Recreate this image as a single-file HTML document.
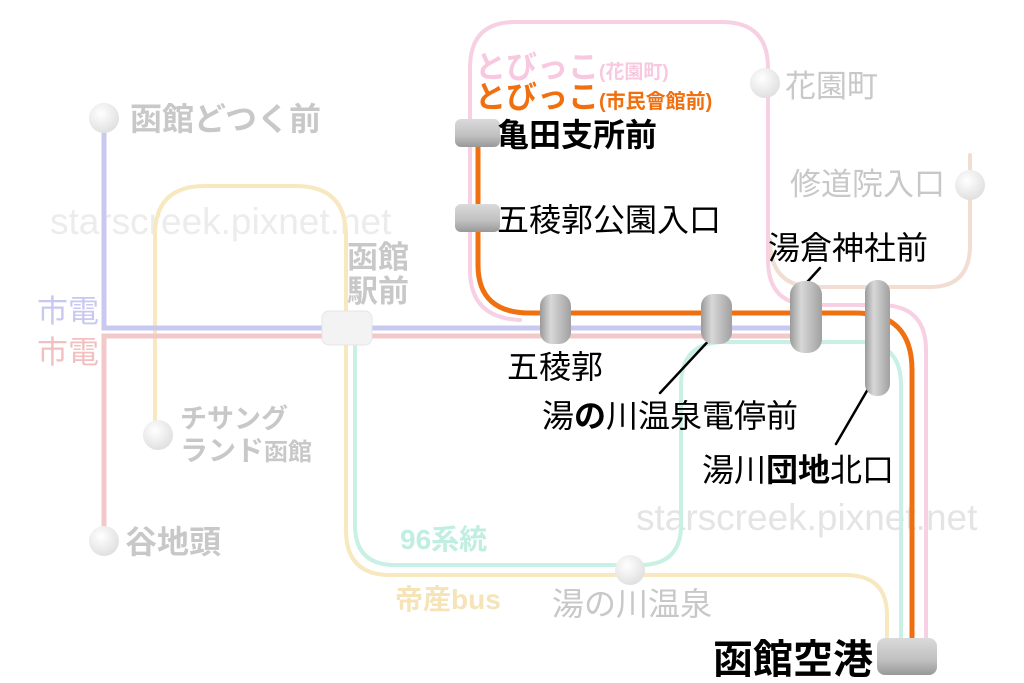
<!DOCTYPE html>
<html><head><meta charset="utf-8"><style>
html,body{margin:0;padding:0;background:#fff;}
svg{display:block;font-family:"Liberation Sans","Noto Sans CJK JP",sans-serif;}
</style></head><body>
<svg width="1024" height="683" viewBox="0 0 1024 683" xmlns="http://www.w3.org/2000/svg">
<defs>
<linearGradient id="g" x1="0" x2="1" y1="0" y2="0"><stop offset="0" stop-color="#9a9a9a"/><stop offset="0.35" stop-color="#d8d8d8"/><stop offset="1" stop-color="#a0a0a0"/></linearGradient>
<linearGradient id="gv" x1="0" x2="0" y1="0" y2="1"><stop offset="0" stop-color="#dadada"/><stop offset="0.6" stop-color="#c0c0c0"/><stop offset="1" stop-color="#989898"/></linearGradient>
<radialGradient id="ball" cx="0.4" cy="0.35" r="0.7"><stop offset="0" stop-color="#fff"/><stop offset="1" stop-color="#dedede"/></radialGradient>
</defs>
<text x="50" y="234" font-size="37" fill="#ececec">starscreek.pixnet.net</text>
<text x="636" y="530" font-size="37" fill="#e4e4e4">starscreek.pixnet.net</text>
<g fill="none" stroke-linecap="round">
<path d="M770 240 Q770 287 815 287 H930 Q970 287 970 245 V155" stroke="#f2ddd2" stroke-width="4"/>
<path d="M520 320 Q470 318 470 270 V68 Q470 22 515 22 H722 Q768 22 768 68 V260 Q768 305 812 305 H880 Q926 305 926 350 V640" stroke="#f8d0e4" stroke-width="4"/>
<path d="M155 435 V235 Q155 186 205 186 H296 Q346 186 346 236 V530 Q346 575 390 575 H845 Q887 575 887 615 V640" stroke="#f8e8c0" stroke-width="4"/>
<path d="M355 340 V525 Q355 565 395 565 H640 Q681 565 681 525 V385 Q681 342 725 342 H858 Q901 342 901 385 V640" stroke="#c8f0e4" stroke-width="4"/>
<path d="M104 118 V328 H805" stroke="#c8c8f0" stroke-width="5"/>
<path d="M104 540 V336 H805" stroke="#f2c8c8" stroke-width="5"/>
<path d="M478 132 V265 Q478 313 530 313 H855 Q912 313 912 370 V650" stroke="#f07010" stroke-width="5"/>
<g stroke="#000" stroke-width="2.5">
<line x1="660" y1="393" x2="713" y2="336"/>
<line x1="800" y1="290" x2="820" y2="268"/>
<line x1="836" y1="444" x2="875" y2="377"/>
</g>
</g>
<g fill="url(#ball)">
<circle cx="104" cy="118" r="15"/><circle cx="104" cy="541" r="15"/>
<circle cx="158" cy="435" r="15"/><circle cx="630" cy="570" r="15"/>
<circle cx="765" cy="83" r="15"/><circle cx="970" cy="185" r="15"/>
</g>
<rect x="322" y="311" width="50" height="34" rx="7" fill="#f3f3f3" stroke="#e6e6e6"/>
<g fill="url(#gv)">
<rect x="455" y="119" width="45" height="28" rx="6"/>
<rect x="455" y="204" width="45" height="28" rx="6"/>
<rect x="877" y="638" width="60" height="37" rx="8"/>
</g>
<g fill="url(#g)">
<rect x="540" y="294" width="31" height="50" rx="12"/>
<rect x="701" y="294" width="31" height="50" rx="12"/>
<rect x="790" y="281" width="32" height="72" rx="14"/>
<rect x="865" y="280" width="25" height="116" rx="12"/>
</g>
<g fill="#c8c8c8" font-weight="bold">
<text x="130" y="130" font-size="32">函館どつく前</text>
<text x="125" y="553" font-size="32">谷地頭</text>
<text x="180" y="428" font-size="27">チサング</text>
<text x="180" y="460" font-size="28">ランド<tspan font-size="24">函館</tspan></text>
<text x="347" y="268" font-size="31">函館</text>
<text x="347" y="302" font-size="31">駅前</text>
<text x="785" y="97" font-size="31" font-weight="normal">花園町</text>
<text x="790" y="195" font-size="31" font-weight="normal">修道院入口</text>
<text x="552" y="615" font-size="32" font-weight="normal">湯の川温泉</text>
</g>
<text x="37" y="322" font-size="31" fill="#c8c8f0">市電</text>
<text x="37" y="363" font-size="31" fill="#f2c0c0">市電</text>
<text x="400" y="549" font-size="28" fill="#c0eee0" font-weight="bold">96系統</text>
<text x="395" y="609" font-size="28" fill="#f5e4b8" font-weight="bold">帝産bus</text>
<text x="475" y="78" font-size="31" fill="#f8c8e0" font-weight="bold">とびっこ<tspan font-size="19">(花園町)</tspan></text>
<text x="475" y="108" font-size="31" fill="#f07010" font-weight="bold">とびっこ<tspan font-size="20">(市民會館前)</tspan></text>
<g fill="#000">
<text x="497" y="146" font-size="32" font-weight="bold">亀田支所前</text>
<text x="497" y="231" font-size="32">五稜郭公園入口</text>
<text x="768" y="259" font-size="32">湯倉神社前</text>
<text x="507" y="378" font-size="32">五稜郭</text>
<text x="542" y="427" font-size="32">湯<tspan font-weight="bold">の</tspan>川温泉電停前</text>
<text x="702" y="481" font-size="32">湯川<tspan font-weight="bold">団地</tspan>北口</text>
<text x="713" y="673" font-size="40" font-weight="bold">函館空港</text>
</g>
</svg>
</body></html>
